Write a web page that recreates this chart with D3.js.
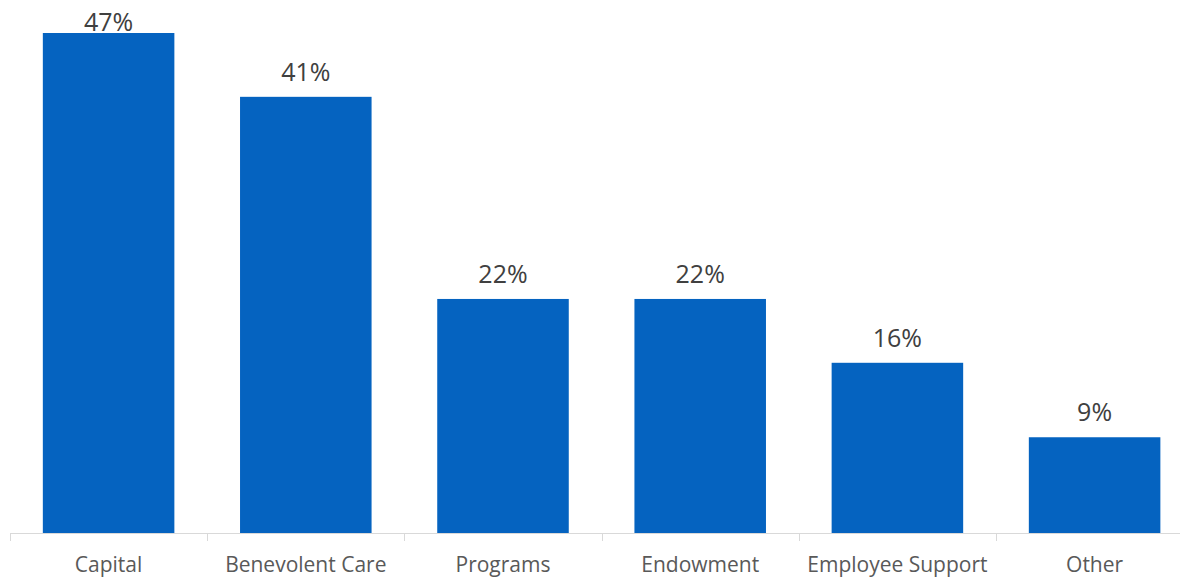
<!DOCTYPE html>
<html>
<head>
<meta charset="utf-8">
<script src="https://cdn.jsdelivr.net/npm/d3@7"></script>
<style>
  html, body { margin: 0; padding: 0; background: #fff; }
  svg { display: block; }
</style>
</head>
<body>
<svg id="chart" width="1180" height="577"></svg>
<script>
// Share of giving by purpose (percent)
const categories = ["Capital", "Benevolent Care", "Programs", "Endowment", "Employee Support", "Other"];
const values = [47, 41, 22, 22, 16, 9];

const width = 1180, height = 577;
const baseline = 533;
const svg = d3.select("#chart");

const x = d3.scaleBand()
  .domain(categories)
  .range([10, 10 + 197.2 * categories.length])
  .paddingInner(0.333)
  .paddingOuter(0.1665);

const y = d3.scaleLinear()
  .domain([0, 47])
  .range([baseline, 33]);

// Bars
svg.append("g")
  .selectAll("rect")
  .data(values)
  .join("rect")
  .attr("x", (d, i) => x(categories[i]))
  .attr("y", d => y(d))
  .attr("width", x.bandwidth())
  .attr("height", d => baseline - y(d))
  .attr("fill", "#0563c0");

// Value labels
svg.append("g")
  .selectAll("text")
  .data(values)
  .join("text")
  .attr("x", (d, i) => x(categories[i]) + x.bandwidth() / 2)
  .attr("y", d => Math.max(y(d) - 16, 31))
  .attr("text-anchor", "middle")
  .attr("font-family", "'Open Sans', sans-serif")
  .attr("font-size", 25)
  .attr("fill", "#404040")
  .text(d => d + "%");

// Category axis
const step = x.step();
const axisG = svg.append("g");
axisG.append("line")
  .attr("x1", 10).attr("x2", width)
  .attr("y1", baseline + 0.5).attr("y2", baseline + 0.5)
  .attr("stroke", "#d9d9d9").attr("stroke-width", 1);

const tickXs = d3.range(categories.length + 1).map(i => 10 + i * step);
axisG.selectAll("line.tick")
  .data(tickXs.filter(v => v <= width))
  .join("line")
  .attr("class", "tick")
  .attr("x1", d => Math.round(d) + 0.5).attr("x2", d => Math.round(d) + 0.5)
  .attr("y1", baseline).attr("y2", baseline + 8)
  .attr("stroke", "#d9d9d9").attr("stroke-width", 1);

axisG.selectAll("text")
  .data(categories)
  .join("text")
  .attr("x", d => x(d) + x.bandwidth() / 2)
  .attr("y", 571.5)
  .attr("text-anchor", "middle")
  .attr("font-family", "'Open Sans', sans-serif")
  .attr("font-size", 21)
  .attr("fill", "#595959")
  .text(d => d);
</script>
</body>
</html>
